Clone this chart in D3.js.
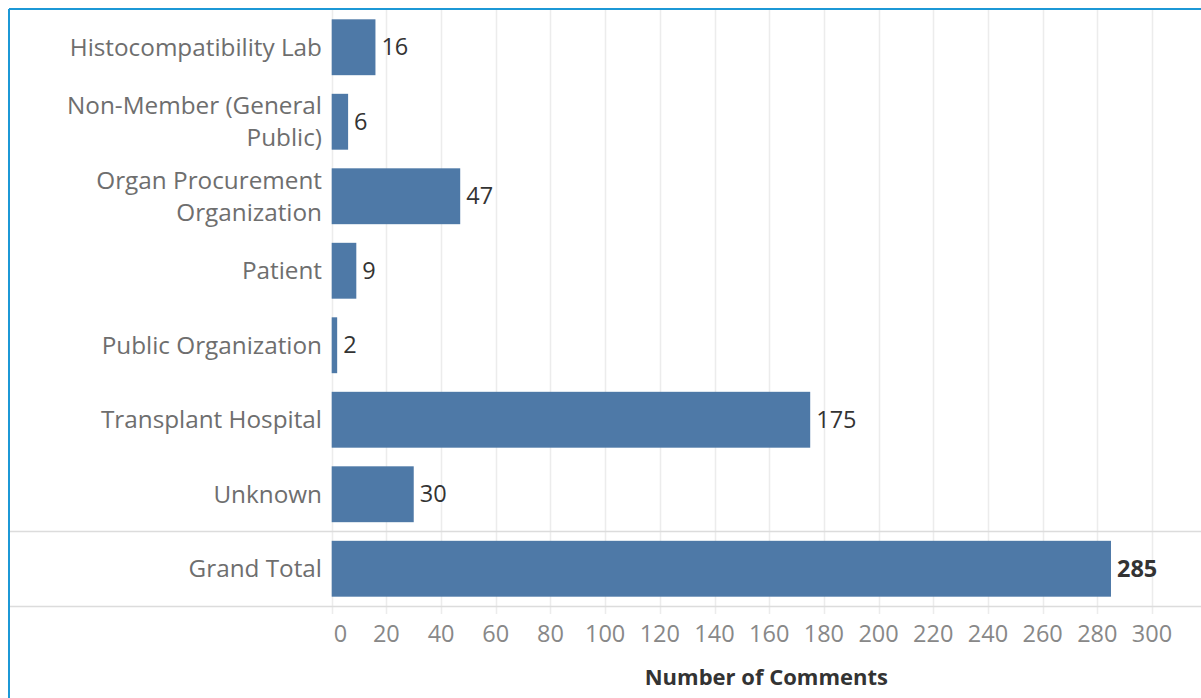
<!DOCTYPE html>
<html>
<head>
<meta charset="utf-8">
<script src="https://cdn.jsdelivr.net/npm/d3@7"></script>
<style>
  body { margin: 0; background: #fff; }
  svg { display: block; font-family: "Open Sans", "Noto Sans", sans-serif; }
</style>
</head>
<body>
<svg width="1201" height="698"></svg>
<script>
// Comments by member type (Tableau-style bar chart)
const categories = ["Histocompatibility Lab", "Non-Member (General Public)", "Organ Procurement Organization",
  "Patient", "Public Organization", "Transplant Hospital", "Unknown", "Grand Total"];
const comments = [16, 6, 47, 9, 2, 175, 30, 285];
const xTicks = [0, 20, 40, 60, 80, 100, 120, 140, 160, 180, 200, 220, 240, 260, 280, 300];
const xTitle = "Number of Comments";

const svg = d3.select("svg");
const W = +svg.attr("width");
const H = +svg.attr("height");
const lmargin = 331.7;
const ytop = 10;
const ybottom = 606;

// frame (only top and left edges visible)
svg.append("line").attr("x1", 9).attr("x2", W).attr("y1", 9).attr("y2", 9)
  .attr("stroke", "#1c98d6").attr("stroke-width", 2);
svg.append("line").attr("x1", 9).attr("x2", 9).attr("y1", 9).attr("y2", H)
  .attr("stroke", "#1c98d6").attr("stroke-width", 2);

const xScale = d3.scaleLinear().domain([0, 300]).range([lmargin, 1152]);
const yScale = d3.scaleBand().domain(categories).range([ytop, ybottom])
  .paddingInner(0.25).paddingOuter(0.125);

// vertical gridlines
svg.append("g").selectAll("line").data(xTicks).join("line")
  .attr("x1", d => Math.round(xScale(d)) + 0.5).attr("x2", d => Math.round(xScale(d)) + 0.5)
  .attr("y1", ytop).attr("y2", 614)
  .attr("stroke", "#ececec").attr("stroke-width", 1.5);

// separators around Grand Total
const step = yScale.step();
const sepY = [yScale("Grand Total") - step * 0.125, ybottom + 0.5];
svg.append("g").selectAll("line").data(sepY).join("line")
  .attr("x1", 10).attr("x2", W)
  .attr("y1", d => d).attr("y2", d => d)
  .attr("stroke", "#dcdcdc").attr("stroke-width", 1.5);

// bars
svg.append("g").selectAll("rect").data(categories).join("rect")
  .attr("x", xScale(0))
  .attr("y", d => yScale(d))
  .attr("width", (d, i) => xScale(comments[i]) - xScale(0))
  .attr("height", yScale.bandwidth())
  .attr("fill", "#4e79a7");

// value labels
svg.append("g").selectAll("text").data(categories).join("text")
  .attr("x", (d, i) => xScale(comments[i]) + 6)
  .attr("y", d => yScale(d) + yScale.bandwidth() / 2)
  .attr("dy", "0.35em")
  .attr("font-size", 23.5)
  .attr("fill", "#333")
  .attr("font-weight", d => d == "Grand Total" ? "bold" : "normal")
  .text((d, i) => comments[i]);

// category labels, wrapped like Tableau does
const labels = svg.append("g").selectAll("text").data(categories).join("text")
  .attr("x", 322)
  .attr("text-anchor", "end")
  .attr("font-size", 24.3)
  .attr("fill", "#6e6e6e");

labels.each(function(d) {
  const t = d3.select(this);
  const words = d.split(" ");
  const lines = [];
  let cur = [];
  const probe = t.append("tspan");
  words.forEach(w => {
    probe.text(cur.concat(w).join(" "));
    if (cur.length && probe.node().getComputedTextLength() > 275) {
      lines.push(cur.join(" "));
      cur = [w];
    } else cur.push(w);
  });
  lines.push(cur.join(" "));
  probe.remove();
  const lh = 32;
  const cy = yScale(d) + yScale.bandwidth() / 2;
  lines.forEach((l, i) => {
    t.append("tspan").attr("x", 322)
      .attr("y", cy + (i - (lines.length - 1) / 2) * lh)
      .attr("dy", "0.35em").text(l);
  });
});

// x axis tick labels (kept inside the pane, so "0" gets nudged right)
svg.append("g").selectAll("text").data(xTicks).join("text")
  .attr("y", 634)
  .attr("dy", "0.35em")
  .attr("font-size", 23.5)
  .attr("fill", "#888")
  .text(d => d)
  .attr("x", function(d) {
    const w = this.getComputedTextLength();
    return Math.max(xScale(d) - w / 2, lmargin + 2);
  });

svg.append("text")
  .attr("x", (lmargin + W) / 2)
  .attr("y", 677)
  .attr("dy", "0.35em")
  .attr("text-anchor", "middle")
  .attr("font-size", 22)
  .attr("font-weight", "bold")
  .attr("fill", "#333")
  .text(xTitle);
</script>
</body>
</html>
